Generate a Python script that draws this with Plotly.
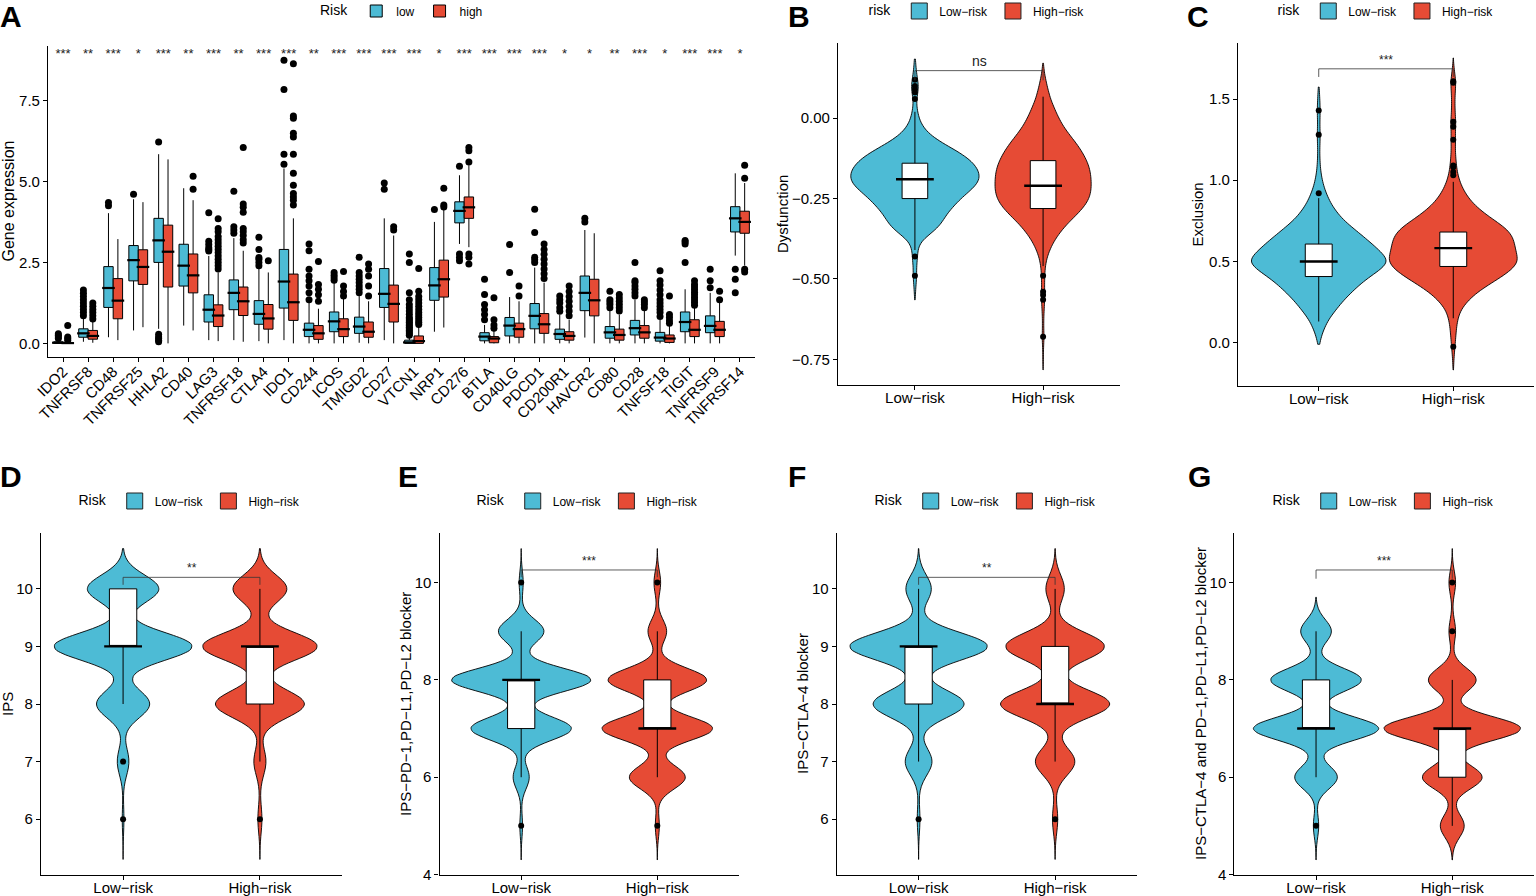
import numpy as np
import plotly.graph_objects as go

W, H = 1536, 896
BLUE = "#4DBBD5"
RED = "#E64B35"
FONT = "Liberation Sans, Arial, sans-serif"
LOW, HIGH = "Low\u2212risk", "High\u2212risk"

# ---------------- A: checkpoint gene expression (box stats) ----------------
genes = ["IDO2", "TNFRSF8", "CD48", "TNFRSF25", "HHLA2", "CD40", "LAG3", "TNFRSF18",
         "CTLA4", "IDO1", "CD244", "ICOS", "TMIGD2", "CD27", "VTCN1", "NRP1", "CD276",
         "BTLA", "CD40LG", "PDCD1", "CD200R1", "HAVCR2", "CD80", "CD28", "TNFSF18",
         "TIGIT", "TNFRSF9", "TNFRSF14"]
stars_a = ["***", "**", "***", "*", "***", "**", "***", "**", "***", "***", "**", "***", "***",
           "***", "***", "*", "***", "***", "***", "***", "*", "*", "**", "***", "*", "***",
           "***", "*"]

low_lo = [0.00, 0.05, 0.19, 0.40, 0.45, 0.55, 0.10, 0.10, 0.07, 0.10, 0.00, 0.00, 0.02, 0.10,
          0.00, 0.36, 3.07, 0.00, 0.00, 0.00, 0.00, 0.18, 0.00, 0.00, 0.00, 0.00, 0.00, 2.71]
low_q1 = [0.00, 0.19, 1.11, 1.93, 2.50, 1.77, 0.66, 1.04, 0.59, 1.09, 0.21, 0.36, 0.31, 1.11,
          0.00, 1.33, 3.72, 0.08, 0.23, 0.45, 0.125, 1.01, 0.16, 0.26, 0.07, 0.36, 0.33, 3.44]
low_med = [0.02, 0.31, 1.71, 2.57, 3.18, 2.40, 1.04, 1.56, 0.91, 1.91, 0.42, 0.68, 0.52, 1.53,
           0.03, 1.79, 4.09, 0.21, 0.55, 0.85, 0.29, 1.56, 0.34, 0.47, 0.18, 0.66, 0.54, 3.86]
low_q3 = [0.05, 0.45, 2.37, 3.02, 3.86, 3.06, 1.50, 1.96, 1.32, 2.90, 0.625, 0.97, 0.81, 2.31,
          0.10, 2.34, 4.37, 0.33, 0.80, 1.23, 0.44, 2.08, 0.52, 0.71, 0.34, 0.97, 0.85, 4.22]
low_hi = [0.12, 0.80, 4.02, 4.45, 5.84, 4.79, 2.70, 3.25, 2.34, 5.40, 1.25, 1.875, 1.46, 3.86,
          0.21, 3.75, 5.19, 0.57, 1.43, 2.34, 0.89, 3.50, 1.04, 1.35, 0.73, 1.67, 1.56, 5.25]
low_out = [
    [0.15, 0.2, 0.25, 0.3],
    [0.85, 0.95, 1.05, 1.15, 1.25, 1.35, 1.45, 1.55, 1.65],
    [4.25, 4.35],
    [4.6],
    [0.05, 0.1, 0.15, 0.2, 0.28, 6.22],
    [],
    [2.85, 2.9, 2.95, 3.05, 3.15, 4.03],
    [3.4, 3.5, 3.6, 4.7],
    [2.4, 2.5, 2.6, 2.65, 2.9, 3.28],
    [5.53, 5.84, 7.84, 8.74],
    [1.35, 1.56, 1.77, 1.93, 2.08, 2.29, 2.86, 3.07],
    [1.95, 2.03, 2.1, 2.19],
    [1.56, 1.67, 1.77, 1.88, 1.98, 2.08, 2.19, 2.66],
    [4.76, 4.95],
    [0.25, 0.3, 0.35, 0.4, 0.45, 0.5, 0.55, 0.6, 0.65, 0.7, 0.75, 0.8, 0.9, 1.0, 1.1, 1.2,
     1.35, 1.56, 2.5, 2.76],
    [4.13],
    [2.55, 2.65, 2.76, 5.47],
    [0.73, 0.89, 1.04, 1.2, 1.51, 1.98],
    [2.19, 3.05],
    [2.5, 2.58, 2.66, 3.42, 4.14],
    [0.99, 1.1, 1.25, 1.35, 1.46],
    [3.75, 3.86],
    [1.1, 1.2, 1.28, 1.35, 1.61],
    [1.46, 1.56, 1.67, 1.77, 1.88, 1.93, 2.5],
    [0.83, 0.95, 1.05, 1.15, 1.25, 1.35, 1.5, 1.65, 1.8, 1.93, 2.24],
    [2.5, 3.07, 3.13, 3.18],
    [1.72, 1.93, 2.29],
    [1.56, 1.98, 2.29],
]

high_lo = [0.00, 0.02, 0.10, 0.50, 0.00, 0.40, 0.07, 0.05, 0.00, 0.00, 0.00, 0.00, 0.00, 0.00,
           0.00, 0.49, 2.97, 0.00, 0.00, 0.00, 0.00, 0.00, 0.00, 0.00, 0.00, 0.00, 0.00, 2.40]
high_q1 = [0.00, 0.13, 0.76, 1.82, 1.74, 1.56, 0.52, 0.86, 0.44, 0.71, 0.125, 0.21, 0.19, 0.66,
           0.00, 1.43, 3.86, 0.02, 0.19, 0.31, 0.10, 0.85, 0.10, 0.16, 0.03, 0.21, 0.21, 3.40]
high_med = [0.01, 0.23, 1.32, 2.36, 2.83, 2.10, 0.86, 1.30, 0.77, 1.27, 0.31, 0.44, 0.36, 1.22,
            0.07, 1.98, 4.20, 0.15, 0.44, 0.59, 0.23, 1.33, 0.26, 0.34, 0.15, 0.42, 0.42, 3.75]
high_q3 = [0.03, 0.40, 2.00, 2.89, 3.65, 2.76, 1.19, 1.74, 1.20, 2.14, 0.55, 0.76, 0.66, 1.80,
           0.23, 2.57, 4.52, 0.21, 0.625, 0.92, 0.36, 1.98, 0.44, 0.55, 0.26, 0.73, 0.68, 4.08]
high_hi = [0.07, 0.70, 3.22, 4.36, 5.68, 4.42, 2.19, 2.86, 2.19, 3.86, 1.07, 1.40, 1.30, 3.33,
           0.52, 4.17, 5.50, 0.42, 1.30, 1.875, 0.73, 3.40, 0.89, 1.04, 0.57, 1.10, 1.25, 4.95]
high_out = [
    [0.1, 0.15, 0.2, 0.55],
    [0.75, 0.85, 0.95, 1.05, 1.15, 1.25],
    [],
    [],
    [],
    [4.76, 5.16],
    [2.3, 2.4, 2.5, 2.6, 2.7, 2.8, 2.9, 3.0, 3.1, 3.2, 3.3, 3.45, 3.55, 3.85],
    [3.1, 3.2, 3.33, 3.45, 3.55, 4.05, 4.2, 4.3, 6.05],
    [2.55],
    [4.27, 4.42, 4.52, 4.63, 4.88, 5.25, 5.84, 6.37, 6.49, 6.95, 7.02, 8.63],
    [1.3, 1.5, 1.67, 1.82, 2.53],
    [1.46, 1.6, 1.77, 2.22],
    [1.46, 1.77, 2.08, 2.29, 2.45],
    [3.5, 3.6],
    [0.58, 0.65, 0.72, 0.8, 0.88, 0.95, 1.05, 1.15, 1.25, 1.35, 1.45, 1.61, 2.31],
    [4.21, 4.27, 4.79],
    [2.45, 2.66, 2.76, 5.6, 5.95, 6.05],
    [0.47, 0.57, 0.73, 1.41],
    [1.46, 1.77],
    [2.0, 2.15, 2.3, 2.45, 2.6, 2.75, 2.9, 3.07],
    [0.85, 1.0, 1.15, 1.3, 1.45, 1.6, 1.77],
    [],
    [1.0, 1.1, 1.2, 1.3, 1.4, 1.51],
    [1.1, 1.2, 1.28, 1.35],
    [0.62, 0.7, 0.8, 0.89, 1.46],
    [1.18, 1.26, 1.34, 1.42, 1.5, 1.58, 1.66, 1.74, 1.82, 1.93],
    [1.35, 1.61],
    [2.2, 2.29, 5.1, 5.5],
]

# ---------------- B: dysfunction, density profile (y, relative density) ----------------
b_low_y = [0.18, 0.16, 0.14, 0.12, 0.10, 0.08, 0.06, 0.04, 0.02, 0.00, -0.02, -0.04, -0.06,
           -0.08, -0.10, -0.12, -0.14, -0.16, -0.18, -0.20, -0.22, -0.24, -0.26, -0.28, -0.30,
           -0.32, -0.34, -0.36, -0.38, -0.40, -0.42, -0.44, -0.46, -0.48, -0.50, -0.52, -0.54,
           -0.56]
b_low_n = [2, 3, 5, 8, 11, 9, 5, 5, 8, 12, 20, 33, 55, 85, 120, 150, 172, 185, 191, 186, 168,
           145, 125, 108, 92, 82, 68, 45, 20, 10, 8, 7, 5, 5, 5, 3, 2, 1]
b_high_y = [0.16, 0.14, 0.12, 0.10, 0.08, 0.06, 0.04, 0.02, 0.00, -0.02, -0.04, -0.06, -0.08,
            -0.10, -0.12, -0.14, -0.16, -0.18, -0.20, -0.22, -0.24, -0.26, -0.28, -0.30, -0.32,
            -0.34, -0.36, -0.38, -0.40, -0.42, -0.44, -0.46, -0.48, -0.50, -0.52, -0.54, -0.56,
            -0.58, -0.60, -0.62, -0.64, -0.66, -0.68, -0.70, -0.72, -0.74, -0.76]
b_high_n = [2, 4, 8, 12, 17, 22, 30, 38, 47, 57, 70, 85, 100, 113, 124, 133, 139, 142, 143, 143,
            140, 132, 118, 100, 80, 62, 47, 34, 24, 16, 10, 7, 5, 5, 4, 5, 5, 4, 3, 2, 2, 2, 3,
            2, 1, 1, 1]
b_box_low = [-0.41, -0.25, -0.19, -0.14, 0.02]      # lower whisker, q1, median, q3, upper whisker
b_box_high = [-0.46, -0.281, -0.21, -0.132, 0.067]
b_out_low = [0.06, 0.08, 0.09, 0.10, 0.12, -0.43, -0.49]
b_out_high = [-0.49, -0.54, -0.55, -0.565, -0.68]

# ---------------- C: exclusion ----------------
c_low_y = [1.55, 1.50, 1.45, 1.40, 1.35, 1.30, 1.25, 1.20, 1.15, 1.10, 1.05, 1.00, 0.95, 0.90,
           0.85, 0.80, 0.75, 0.70, 0.65, 0.60, 0.55, 0.50, 0.45, 0.40, 0.35, 0.30, 0.25, 0.20,
           0.15, 0.10, 0.05, 0.00]
c_low_n = [2, 3, 4, 4, 3, 4, 4, 3, 3, 4, 6, 10, 16, 25, 36, 52, 72, 100, 128, 155, 180, 200, 175,
           140, 112, 88, 66, 48, 30, 18, 9, 3]
c_high_y = [1.70, 1.65, 1.60, 1.55, 1.50, 1.45, 1.40, 1.35, 1.30, 1.25, 1.20, 1.15, 1.10, 1.05,
            1.00, 0.95, 0.90, 0.85, 0.80, 0.75, 0.70, 0.65, 0.60, 0.55, 0.50, 0.45, 0.40, 0.35,
            0.30, 0.25, 0.20, 0.15, 0.10, 0.05, 0.00, -0.05, -0.10, -0.15]
c_high_n = [2, 5, 8, 6, 5, 5, 6, 8, 6, 7, 6, 7, 9, 12, 18, 28, 42, 62, 90, 125, 160, 178, 183,
            188, 195, 175, 140, 100, 65, 40, 22, 14, 10, 8, 6, 4, 2, 1]
c_box_low = [0.13, 0.407, 0.50, 0.607, 0.89]
c_box_high = [0.15, 0.469, 0.582, 0.681, 0.99]
c_out_low = [0.92, 1.28, 1.43]
c_out_high = [-0.025, 1.03, 1.05, 1.08, 1.09, 1.25, 1.33, 1.36, 1.60, 1.61]

# ---------------- D-G: IPS scores (integer values with counts) ----------------
d_vals_low, d_cnt_low = [6, 7, 8, 9, 10], [1, 7, 32, 83, 43]
d_vals_high, d_cnt_high = [6, 7, 8, 9, 10], [3, 9, 66, 85, 40]
d_box_low, d_box_high = [8, 9, 9, 10, 10], [7, 8, 9, 9, 10]
d_out_low, d_out_high = [7, 6], [6]

e_vals_low, e_cnt_low = [5, 6, 7, 8, 9, 10], [2, 12, 75, 104, 34, 3]
e_vals_high, e_cnt_high = [5, 6, 7, 8, 9, 10], [3, 42, 83, 74, 14, 5]
e_box_low, e_box_high = [6, 7, 8, 8, 9], [6, 7, 7, 8, 9]
e_out_low, e_out_high = [5, 10], [5, 10]

f_vals_low, f_cnt_low = [6, 7, 8, 9, 10], [2, 20, 68, 103, 19]
f_vals_high, f_cnt_high = [6, 7, 8, 9, 10], [4, 30, 83, 75, 14]
f_box_low, f_box_high = [7, 8, 9, 9, 10], [7, 8, 8, 9, 10]
f_out_low, f_out_high = [6], [6]

g_vals_low, g_cnt_low = [5, 6, 7, 8, 9], [4, 32, 94, 68, 23]
g_vals_high, g_cnt_high = [5, 6, 7, 8, 9, 10], [18, 45, 103, 36, 5, 5]
g_box_low, g_box_high = [6, 7, 7, 8, 9], [5, 6, 7, 7, 8]
g_out_low, g_out_high = [5], [9, 10]


def expand(values, counts):
    return np.repeat(np.asarray(values, dtype=float), counts)


def px_x(p):
    return p / W


def px_y(p):
    return 1 - p / H


fig = go.Figure()
layout = dict(width=W, height=H, margin=dict(l=0, r=0, t=0, b=0, autoexpand=False),
              paper_bgcolor="white", plot_bgcolor="white",
              font=dict(family=FONT, color="black", size=13),
              boxmode="overlay", violinmode="overlay", annotations=[])

axis_style = dict(showline=True, linecolor="black", linewidth=1.1, ticks="outside",
                  ticklen=4, tickcolor="black", tickwidth=1, showgrid=False, zeroline=False,
                  automargin=False, tickfont=dict(size=15, color="black"))


def set_axes(n, frame, xextra, yextra, ytitle, title_x, title_size):
    x0, x1, y0, y1 = frame
    sx = "" if n == 1 else str(n)
    layout["xaxis" + sx] = dict(axis_style, domain=[px_x(x0), px_x(x1)], anchor="y" + sx,
                                ticklabelstandoff=-5, **xextra)
    layout["yaxis" + sx] = dict(axis_style, domain=[px_y(y1), px_y(y0)], anchor="x" + sx, **yextra)
    layout["annotations"].append(dict(text=ytitle, x=px_x(title_x), y=px_y((y0 + y1) / 2),
                                      xref="paper", yref="paper", xanchor="center",
                                      yanchor="middle", textangle=-90, showarrow=False,
                                      font=dict(size=title_size, color="black")))


def legend_box(key, cx, cy, title):
    layout[key] = dict(orientation="h", x=px_x(cx), y=px_y(cy), xanchor="center",
                       yanchor="middle", bgcolor="rgba(0,0,0,0)",
                       title=dict(text=title, side="left", font=dict(size=14)),
                       font=dict(size=12), itemwidth=30, tracegroupgap=0)


def panel_label(text, cx, cy):
    layout["annotations"].append(dict(text="<b>%s</b>" % text, x=px_x(cx), y=px_y(cy),
                                      xref="paper", yref="paper", xanchor="center",
                                      yanchor="middle", showarrow=False,
                                      font=dict(size=30, color="black")))


# ---------- panel A ----------
pos = np.arange(1, len(genes) + 1)
DODGE = 0.1875
for name, shift, col, lo, q1, med, q3, hi, outs in (
        ("low", -DODGE, BLUE, low_lo, low_q1, low_med, low_q3, low_hi, low_out),
        ("high", DODGE, RED, high_lo, high_q1, high_med, high_q3, high_hi, high_out)):
    xs = pos + shift
    fig.add_trace(go.Box(x=xs, lowerfence=lo, q1=q1, median=med, q3=q3, upperfence=hi,
                         orientation="v", width=0.375, name=name, fillcolor=col,
                         line=dict(color="black", width=1), whiskerwidth=0, boxpoints=False,
                         hoverinfo="skip", legend="legend", xaxis="x", yaxis="y"))
    fig.add_trace(go.Scatter(x=xs, y=med, mode="markers", showlegend=False, hoverinfo="skip",
                             marker=dict(symbol="line-ew", size=9,
                                         line=dict(color="black", width=2.2)),
                             xaxis="x", yaxis="y"))
    ox = [xs[i] for i, pts in enumerate(outs) for _ in pts]
    oy = [v for pts in outs for v in pts]
    fig.add_trace(go.Scatter(x=ox, y=oy, mode="markers", showlegend=False, hoverinfo="skip",
                             marker=dict(color="black", size=7), xaxis="x", yaxis="y"))

fig.add_trace(go.Scatter(x=pos, y=[8.9] * len(pos), text=stars_a, mode="text",
                         textfont=dict(size=13, color="#222"), showlegend=False,
                         hoverinfo="skip", xaxis="x", yaxis="y"))

set_axes(1, (48, 755, 46, 357),
         dict(range=[0.4, 28.6], tickvals=pos, ticktext=genes, tickangle=-45),
         dict(range=[-0.42, 9.18], tickvals=[0, 2.5, 5, 7.5], ticktext=["0.0", "2.5", "5.0", "7.5"]),
         "Gene expression", 8, 16)
legend_box("legend", 403, 11, "Risk")
panel_label("A", 11, 16)


# ---------- violin panels ----------
def violin_panel(n, frame, low, high, spans, widths, bw, boxes, outs, bracket, yextra,
                 ytitle, title_x, leg_title, leg_xy, label):
    xa, ya, leg = "x%d" % n, "y%d" % n, "legend%d" % n
    cats = (LOW, HIGH)
    cols = (BLUE, RED)
    for cat, samp, span, wid, col in zip(cats, (low, high), spans, widths, cols):
        fig.add_trace(go.Violin(x=[cat] * len(samp), y=samp, spanmode="manual", span=span,
                                bandwidth=bw, width=wid, fillcolor=col, opacity=1,
                                line=dict(color="black", width=0.9), points=False,
                                hoverinfo="skip", showlegend=False, xaxis=xa, yaxis=ya))
    for cat, box, out in zip(cats, boxes, outs):
        lo, q1, med, q3, hi = box
        fig.add_trace(go.Box(x=[cat], lowerfence=[lo], q1=[q1], median=[med], q3=[q3],
                             upperfence=[hi], orientation="v", width=0.2, fillcolor="white",
                             line=dict(color="black", width=1), whiskerwidth=0,
                             boxpoints=False, hoverinfo="skip", showlegend=False,
                             xaxis=xa, yaxis=ya))
        fig.add_trace(go.Scatter(x=[cat], y=[med], mode="markers", showlegend=False,
                                 hoverinfo="skip",
                                 marker=dict(symbol="line-ew", size=27,
                                             line=dict(color="black", width=2.4)),
                                 xaxis=xa, yaxis=ya))
        fig.add_trace(go.Scatter(x=[cat] * len(out), y=out, mode="markers", showlegend=False,
                                 hoverinfo="skip", marker=dict(color="black", size=6),
                                 xaxis=xa, yaxis=ya))
    top, tip, txt = bracket
    fig.add_trace(go.Scatter(x=[LOW, LOW, HIGH, HIGH], y=[top - tip, top, top, top - tip],
                             mode="lines", line=dict(color="#333", width=0.8),
                             showlegend=False, hoverinfo="skip", xaxis=xa, yaxis=ya))
    layout["annotations"].append(dict(text=txt, x=0.5, y=top, xref=xa, yref=ya,
                                      yanchor="bottom", showarrow=False,
                                      font=dict(size=14 if txt == "ns" else 12, color="#222")))
    for cat, col in zip(cats, cols):
        fig.add_trace(go.Scatter(x=[None], y=[None], mode="markers", name=cat, legend=leg,
                                 marker=dict(symbol="square", size=17, color=col,
                                             line=dict(color="#222", width=1)),
                                 xaxis=xa, yaxis=ya))
    set_axes(n, frame,
             dict(type="category", categoryorder="array", categoryarray=list(cats),
                  range=[-0.6, 1.6], tickfont=dict(size=15, color="black")),
             yextra, ytitle, title_x, 15)
    legend_box(leg, leg_xy[0], leg_xy[1], leg_title)
    panel_label(*label)


violin_panel(2, (838, 1120, 43, 385), expand(b_low_y, b_low_n), expand(b_high_y, b_high_n),
             ([-0.565, 0.184], [-0.783, 0.171]), (1.0, 0.75), 0.016,
             (b_box_low, b_box_high), (b_out_low, b_out_high), (0.148, 0.03, "ns"),
             dict(range=[-0.830, 0.234], tickvals=[-0.75, -0.5, -0.25, 0], tickformat=".2f"),
             "Dysfunction", 782, "risk", (978, 11), ("B", 799, 16))

violin_panel(3, (1238, 1534, 43, 386), expand(c_low_y, c_low_n), expand(c_high_y, c_high_n),
             ([-0.01, 1.574], [-0.168, 1.753]), (1.0, 0.95), 0.035,
             (c_box_low, c_box_high), (c_out_low, c_out_high), (1.686, 0.05, "***"),
             dict(range=[-0.267, 1.845], tickvals=[0, 0.5, 1.0, 1.5], tickformat=".1f"),
             "Exclusion", 1197, "risk", (1387, 11), ("C", 1198, 16))

violin_panel(4, (41, 342, 533, 875), expand(d_vals_low, d_cnt_low), expand(d_vals_high, d_cnt_high),
             ([5.3, 10.7], [5.3, 10.7]), (1.0, 0.83), 0.24,
             (d_box_low, d_box_high), (d_out_low, d_out_high), (10.2, 0.13, "**"),
             dict(range=[5.03, 10.97], tickvals=[6, 7, 8, 9, 10]),
             "IPS", 7, "Risk", (191, 501), ("D", 11, 476))

violin_panel(5, (439.5, 739, 533, 875), expand(e_vals_low, e_cnt_low), expand(e_vals_high, e_cnt_high),
             ([4.3, 10.7], [4.3, 10.7]), (1.02, 0.81), 0.24,
             (e_box_low, e_box_high), (e_out_low, e_out_high), (10.26, 0.15, "***"),
             dict(range=[3.99, 11.02], tickvals=[4, 6, 8, 10]),
             "IPS\u2212PD\u22121,PD\u2212L1,PD\u2212L2 blocker", 405, "Risk", (589, 501),
             ("E", 408, 476))

violin_panel(6, (836.7, 1137, 533, 875), expand(f_vals_low, f_cnt_low), expand(f_vals_high, f_cnt_high),
             ([5.3, 10.7], [5.3, 10.7]), (1.0, 0.8), 0.24,
             (f_box_low, f_box_high), (f_out_low, f_out_high), (10.2, 0.13, "**"),
             dict(range=[5.03, 10.97], tickvals=[6, 7, 8, 9, 10]),
             "IPS\u2212CTLA\u22124 blocker", 802, "Risk", (987, 501), ("F", 797, 476))

violin_panel(7, (1234.3, 1534, 533, 875), expand(g_vals_low, g_cnt_low), expand(g_vals_high, g_cnt_high),
             ([4.3, 9.7], [4.3, 10.7]), (0.92, 1.0), 0.24,
             (g_box_low, g_box_high), (g_out_low, g_out_high), (10.26, 0.18, "***"),
             dict(range=[3.99, 11.02], tickvals=[4, 6, 8, 10]),
             "IPS\u2212CTLA\u22124 and PD\u22121,PD\u2212L1,PD\u2212L2 blocker", 1200, "Risk",
             (1385, 501), ("G", 1199, 476))

fig.update_layout(**layout)
fig.write_html("out.html", config={"displayModeBar": False},
               post_script="document.body.style.margin='0';")
